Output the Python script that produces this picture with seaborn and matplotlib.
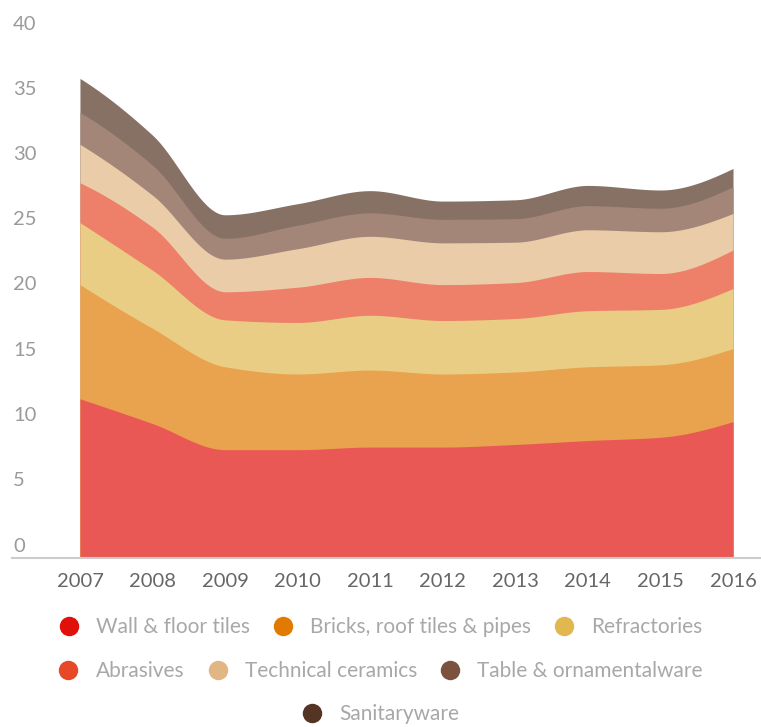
"""Stacked area chart: ceramics production by sector, 2007-2016"""

import numpy as np
import pandas as pd
import matplotlib
matplotlib.use("Agg")
import matplotlib.pyplot as plt
from matplotlib.lines import Line2D
from matplotlib.transforms import ScaledTranslation
import seaborn as sns

years = [2007, 2008, 2009, 2010, 2011, 2012, 2013, 2014, 2015, 2016]

wall_floor = [12.2, 10.3, 8.3, 8.3, 8.5, 8.5, 8.7, 9.0, 9.25, 10.45]
bricks = [8.75, 7.3, 6.35, 5.8, 5.9, 5.6, 5.55, 5.65, 5.55, 5.6]
refractories = [4.75, 4.45, 3.6, 3.95, 4.2, 4.1, 4.1, 4.3, 4.25, 4.6]
abrasives = [3.05, 3.3, 2.15, 2.7, 2.9, 2.75, 2.75, 3.0, 2.75, 2.95]
technical = [2.95, 2.45, 2.5, 2.95, 3.15, 3.2, 3.1, 3.2, 3.2, 2.8]
tableware = [2.45, 2.3, 1.6, 1.8, 1.8, 1.8, 1.8, 1.85, 1.8, 2.05]
sanitary = [2.6, 2.3, 1.8, 1.65, 1.7, 1.4, 1.45, 1.55, 1.4, 1.4]

series_names = ["Wall & floor tiles", "Bricks, roof tiles & pipes", "Refractories",
                "Abrasives", "Technical ceramics", "Table & ornamentalware",
                "Sanitaryware"]
legend_colors = ["#E0100A", "#E07A00", "#E0B84F", "#E74827",
                 "#E1B683", "#7C523E", "#543423"]

y_ticks = [0, 5, 10, 15, 20, 25, 30, 35, 40]


def pchip(x, y, xs):
    # monotone cubic, just for drawing smooth edges through the points
    x = np.asarray(x, float)
    y = np.asarray(y, float)
    h = np.diff(x)
    delta = np.diff(y) / h
    n = len(x)
    d = np.zeros(n)
    for k in range(1, n - 1):
        if delta[k - 1] * delta[k] > 0:
            w1 = 2 * h[k] + h[k - 1]
            w2 = h[k] + 2 * h[k - 1]
            d[k] = (w1 + w2) / (w1 / delta[k - 1] + w2 / delta[k])
    for k, (i0, i1) in ((0, (0, 1)), (n - 1, (n - 2, n - 3))):
        dd = ((2 * h[i0] + h[i1]) * delta[i0] - h[i0] * delta[i1]) / (h[i0] + h[i1])
        if np.sign(dd) != np.sign(delta[i0]):
            dd = 0
        elif np.sign(delta[i0]) != np.sign(delta[i1]) and abs(dd) > abs(3 * delta[i0]):
            dd = 3 * delta[i0]
        d[k] = dd
    idx = np.clip(np.searchsorted(x, xs) - 1, 0, n - 2)
    t = (xs - x[idx]) / h[idx]
    h00 = 2 * t**3 - 3 * t**2 + 1
    h10 = t**3 - 2 * t**2 + t
    h01 = -2 * t**3 + 3 * t**2
    h11 = t**3 - t**2
    return (h00 * y[idx] + h10 * h[idx] * d[idx]
            + h01 * y[idx + 1] + h11 * h[idx] * d[idx + 1])


def fade(color, alpha=0.7):
    rgb = np.array(matplotlib.colors.to_rgb(color))
    return tuple(alpha * rgb + (1 - alpha))


def main():
    data = pd.DataFrame({
        series_names[0]: wall_floor,
        series_names[1]: bricks,
        series_names[2]: refractories,
        series_names[3]: abrasives,
        series_names[4]: technical,
        series_names[5]: tableware,
        series_names[6]: sanitary,
    }, index=years)

    sns.set_theme(style="white")
    plt.rcParams["font.family"] = ["Lato", "DejaVu Sans"]

    fig = plt.figure(figsize=(7.61, 7.27), dpi=100)
    ax = fig.add_axes([12 / 761, 1 - 558 / 727, 1 - 12 / 761, (558 - 36) / 727])

    cum = data.cumsum(axis=1)
    xs = np.linspace(years[0], years[-1], 400)

    # draw from the top down, so each layer covers the one above from 0
    for i in range(len(series_names) - 1, -1, -1):
        top = pchip(years, cum.iloc[:, i].values, xs)
        ax.fill_between(xs, 0, top, color=fade(legend_colors[i]), lw=0)

    ax.set_xlim(years[0] - 68 / 72.6, years[-1] + 28 / 72.6)
    ax.set_ylim(0, 40)

    ax.set_xticks(years)
    ax.set_xticklabels([str(y) for y in years])
    ax.tick_params(axis="x", length=0, pad=11, labelsize=14.5, labelcolor="#666666")

    ax.set_yticks([])
    offset = ScaledTranslation(0.01, 0.065, fig.dpi_scale_trans)
    for v in y_ticks:
        ax.text(0, v, str(v), transform=ax.get_yaxis_transform() + offset,
                ha="left", va="baseline", fontsize=14.5, color="#9a9a9a")

    sns.despine(ax=ax, left=True, top=True, right=True)
    ax.spines["bottom"].set_color("#cccccc")
    ax.spines["bottom"].set_linewidth(1.5)

    # legend laid out in centred rows like the original
    rows = [[0, 1, 2], [3, 4, 5], [6]]
    row_y = [1 - 627 / 727, 1 - 671 / 727, 1 - 714 / 727]
    for row, yy in zip(rows, row_y):
        handles = [Line2D([], [], ls="", marker="o", markersize=14,
                          markerfacecolor=legend_colors[i], markeredgewidth=0)
                   for i in row]
        labels = [series_names[i] for i in row]
        leg = fig.legend(handles, labels, loc="center", bbox_to_anchor=(0.5, yy),
                         ncol=len(row), frameon=False, fontsize=15,
                         handlelength=1.0, handletextpad=0.8, columnspacing=1.1,
                         borderpad=0, borderaxespad=0)
        for t in leg.get_texts():
            t.set_color("#a8a8a8")

    fig.savefig("out.png", dpi=100)


if __name__ == "__main__":
    main()
